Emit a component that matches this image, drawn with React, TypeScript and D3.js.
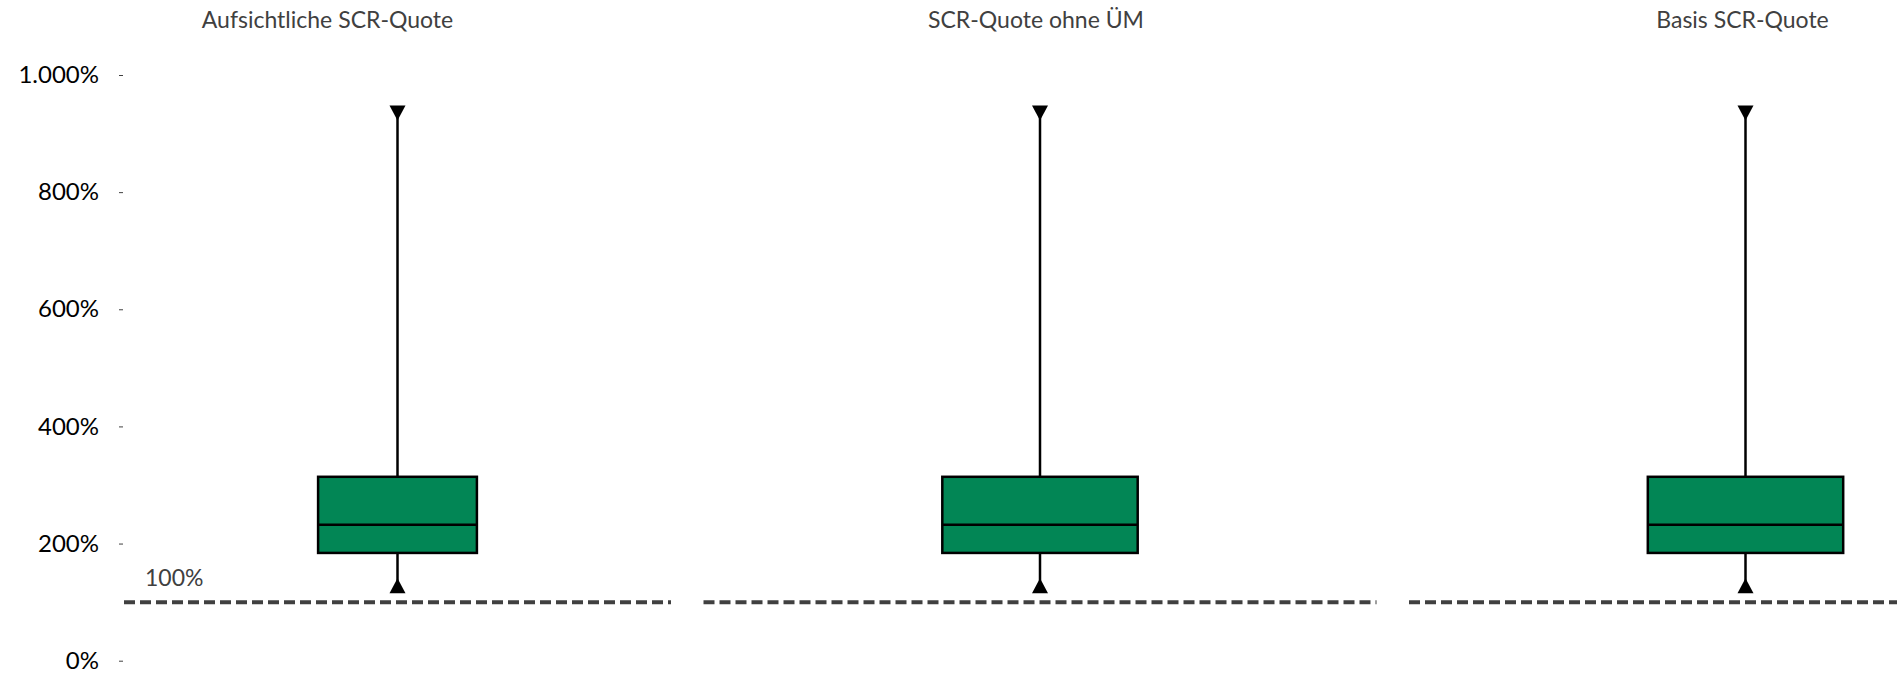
import * as d3 from "d3"
import { useEffect, useRef } from "react"

// panel titles
const panelTitles = ["Aufsichtliche SCR-Quote", "SCR-Quote ohne ÜM", "Basis SCR-Quote"]

// box statistics (in %)
const minValues = [128, 128, 128]
const q1Values = [184, 184, 184]
const medianValues = [232, 232, 232]
const q3Values = [314, 314, 314]
const maxValues = [935, 935, 935]

// y axis ticks and reference line
const yTicks = [0, 200, 400, 600, 800, 1000]
const thresholdValue = 100
const thresholdLabel = "100%"

const WIDTH = 1897
const HEIGHT = 681

const deLocale = d3.formatLocale({
  decimal: ",",
  thousands: ".",
  grouping: [3],
  currency: ["", " €"],
})
const fmtPct = (d: number) => deLocale.format(",.0f")(d) + "%"

const BoxPanels: React.FC = () => {
  const svgRef = useRef<SVGSVGElement | null>(null)

  useEffect(() => {
    if (!svgRef.current) return
    const svg = d3.select(svgRef.current)
    svg.selectAll("*").remove()

    const top = 75
    const bottom = 660.7
    const slotWidth = 673
    const slotGap = 32.5
    const slotStart = -2
    const axisX = 123

    const y = d3.scaleLinear().domain([0, 1000]).range([bottom, top])

    const fontFamily = "Lato, 'Open Sans', sans-serif"

    // Y axis
    const yAxis = d3
      .axisLeft(y)
      .tickValues(yTicks)
      .tickSize(4)
      .tickPadding(20)
      .tickFormat((d) => fmtPct(d as number))

    const axisG = svg
      .append("g")
      .attr("transform", `translate(${axisX},0)`)
      .call(yAxis)
    axisG.select(".domain").remove()
    axisG.selectAll(".tick line").attr("stroke", "#404040").attr("stroke-width", 1)
    axisG
      .selectAll(".tick text")
      .style("font", `24px ${fontFamily}`)
      .attr("fill", "#000000")

    const titleOffsets = [-7, -4, -3]

    panelTitles.forEach((title, i) => {
      const sx0 = slotStart + i * (slotWidth + slotGap)
      const sx1 = sx0 + slotWidth
      const px0 = i === 0 ? axisX + 1 : sx0
      const x = d3
        .scaleBand()
        .domain([title])
        .range([px0, sx1])
        .paddingInner(0.55)
        .paddingOuter(0.55)

      const g = svg.append("g")

      // title
      g.append("text")
        .attr("x", (sx0 + sx1) / 2 + titleOffsets[i])
        .attr("y", 28)
        .attr("text-anchor", "middle")
        .style("font", `23px ${fontFamily}`)
        .attr("fill", "#404040")
        .text(title)

      // 100% threshold line
      g.append("line")
        .attr("x1", px0)
        .attr("x2", sx1)
        .attr("y1", y(thresholdValue))
        .attr("y2", y(thresholdValue))
        .attr("stroke", "#404040")
        .attr("stroke-width", 4)
        .attr("stroke-dasharray", "11,5")

      if (i === 0) {
        g.append("text")
          .attr("x", px0 + 21)
          .attr("y", y(thresholdValue) - 16)
          .style("font", `23px ${fontFamily}`)
          .attr("fill", "#404040")
          .text(thresholdLabel)
      }

      const bx = x(title)!
      const bw = x.bandwidth()
      const cx = bx + bw / 2

      // whiskers
      g.append("line")
        .attr("x1", cx)
        .attr("x2", cx)
        .attr("y1", y(q3Values[i]))
        .attr("y2", y(maxValues[i]))
        .attr("stroke", "#000")
        .attr("stroke-width", 2.5)
      g.append("line")
        .attr("x1", cx)
        .attr("x2", cx)
        .attr("y1", y(q1Values[i]))
        .attr("y2", y(minValues[i]))
        .attr("stroke", "#000")
        .attr("stroke-width", 2.5)

      // box
      g.append("rect")
        .attr("x", bx)
        .attr("y", y(q3Values[i]))
        .attr("width", bw)
        .attr("height", y(q1Values[i]) - y(q3Values[i]))
        .attr("fill", "#028655")
        .attr("stroke", "#000")
        .attr("stroke-width", 2.5)

      // median
      g.append("line")
        .attr("x1", bx)
        .attr("x2", bx + bw)
        .attr("y1", y(medianValues[i]))
        .attr("y2", y(medianValues[i]))
        .attr("stroke", "#000")
        .attr("stroke-width", 2.5)

      // triangle markers
      const tw = 8
      const th = 7.5
      const yMax = y(maxValues[i])
      const yMin = y(minValues[i])
      g.append("path")
        .attr(
          "d",
          `M${cx - tw},${yMax - th}L${cx + tw},${yMax - th}L${cx},${yMax + th}Z`,
        )
        .attr("fill", "#000")
      g.append("path")
        .attr(
          "d",
          `M${cx - tw},${yMin + th}L${cx + tw},${yMin + th}L${cx},${yMin - th}Z`,
        )
        .attr("fill", "#000")
    })
  }, [])

  return (
    <svg
      ref={svgRef}
      width={WIDTH}
      height={HEIGHT}
      style={{ position: "absolute", left: 0, top: 0, background: "#fff" }}
    />
  )
}

export default function App() {
  return <BoxPanels />
}
